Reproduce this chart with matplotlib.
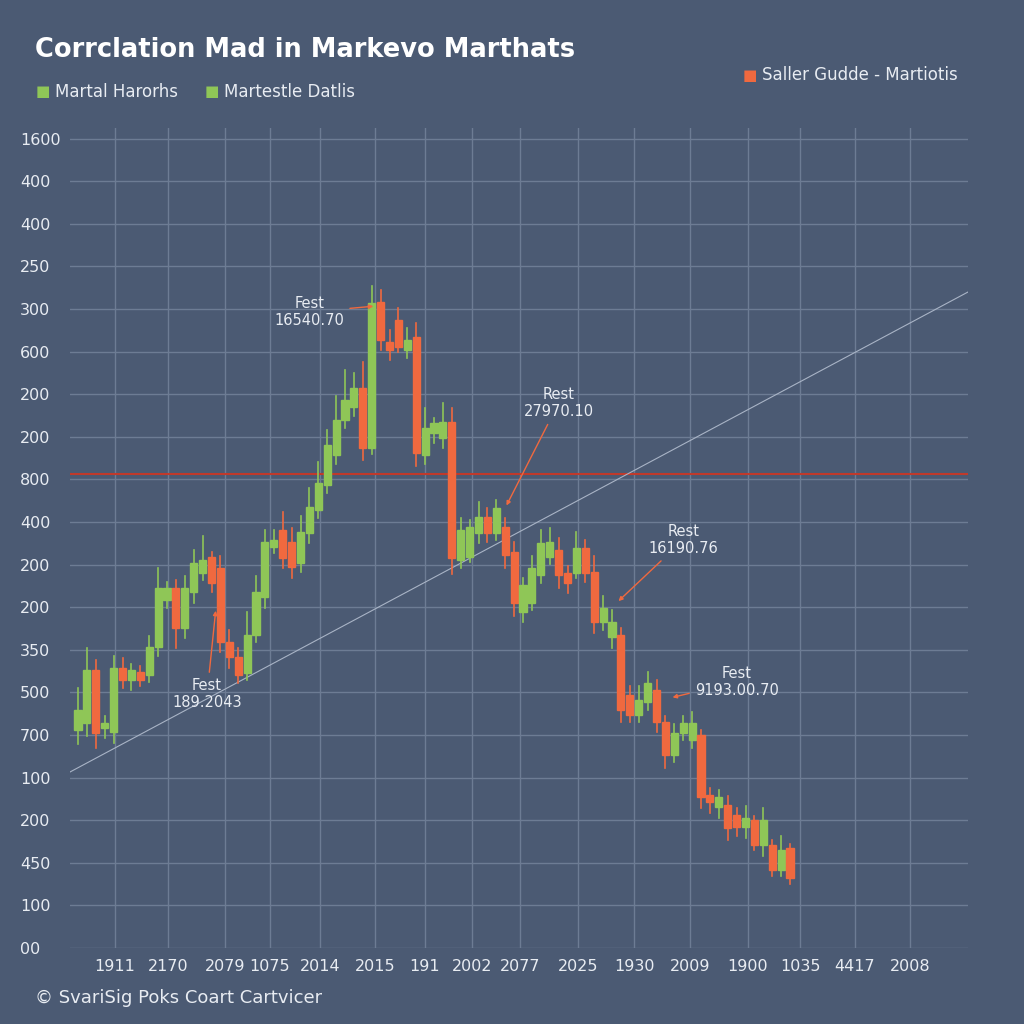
import matplotlib.pyplot as plt
from matplotlib.patches import Rectangle
import numpy as np

# body top / body bottom of each candle (axis value = rows up from baseline)
BODY_TOP = [238, 278, 278, 225, 280, 280, 278, 276, 301, 360, 360, 360, 360, 385, 388, 391,
            380, 306, 291, 313, 356, 406, 408, 418, 406, 416, 441, 465, 503, 528, 548, 560,
            560, 645, 646, 606, 628, 608, 611, 520, 525, 526, 526, 418, 421, 431, 431, 440,
            421, 396, 363, 380, 405, 406, 398, 375, 400, 400, 376, 340, 326, 313, 253, 248,
            265, 258, 226, 215, 225, 225, 213, 153, 151, 143, 133, 130, 128, 128, 103, 98, 100]
BODY_BOT = [218, 225, 215, 220, 216, 268, 268, 268, 273, 301, 348, 320, 320, 356, 375, 365,
            306, 291, 273, 275, 313, 351, 401, 390, 381, 385, 415, 438, 463, 493, 528, 541,
            500, 500, 608, 598, 601, 598, 495, 493, 515, 510, 390, 388, 391, 415, 415, 415,
            393, 345, 336, 345, 373, 391, 373, 365, 375, 375, 326, 326, 311, 238, 233, 233,
            246, 226, 193, 193, 215, 208, 151, 146, 141, 120, 121, 121, 103, 103, 78, 78, 70]
UP = ("ggrggrgrgg" "grgggrrrrg" "gggrrggggg" "ggrgrrrgrg" "ggrgggrgrr"
      "ggggrrgrrg" "grrggrrggg" "rrgrrgrgrgr")
WICK_HIGH = [260, 300, 288, 232, 292, 290, 284, 282, 312, 380, 366, 368, 372, 398, 412, 396,
             392, 318, 300, 336, 372, 418, 418, 436, 420, 432, 460, 486, 518, 552, 578, 575,
             586, 662, 658, 618, 640, 620, 625, 540, 530, 545, 540, 430, 428, 446, 440, 448,
             430, 406, 370, 392, 418, 420, 410, 382, 416, 408, 392, 352, 338, 320, 262, 262,
             276, 268, 232, 224, 232, 236, 218, 160, 158, 152, 140, 142, 132, 140, 108, 112, 104]
WICK_LOW = [204, 212, 200, 210, 205, 260, 258, 262, 266, 292, 340, 300, 310, 345, 368, 356,
            296, 280, 265, 268, 306, 340, 395, 380, 370, 376, 405, 430, 455, 484, 520, 532,
            488, 494, 598, 588, 596, 590, 482, 484, 505, 500, 374, 380, 386, 405, 406, 408,
            380, 332, 326, 338, 365, 384, 360, 355, 370, 366, 315, 318, 300, 226, 226, 226,
            238, 216, 180, 186, 208, 200, 140, 135, 130, 108, 112, 110, 98, 92, 72, 72, 64]

Y_LABELS = ["1600", "400", "400", "250", "300", "600", "200", "200", "800", "400",
            "200", "200", "350", "500", "700", "100", "200", "450", "100", "00"]
X_LABELS = ["1911", "2170", "2079", "1075", "2014", "2015", "191", "2002", "2077", "2025",
            "1930", "2009", "1900", "1035", "4417", "2008"]
X_LABEL_PIX = [115, 168, 225, 270, 320, 375, 425, 472, 520, 578, 634, 690, 748, 800, 855, 910]

ANNOTATIONS = [
    ("Fest\n16540.70", (33.5, 642), (26, 636)),
    ("Fest\n189.2043", (15.5, 340), (14.5, 254)),
    ("Rest\n27970.10", (48, 440), (54, 545)),
    ("Rest\n16190.76", (60.5, 345), (68, 408)),
    ("Fest\n9193.00.70", (66.5, 250), (74, 266)),
]

BG = "#4b5a73"
GRID = "#6d7c94"
GREEN = "#8fc657"
RED = "#f0693f"
TEXT = "#e8ecf2"

fig = plt.figure(figsize=(10.24, 10.24), dpi=100, facecolor=BG)
ax = fig.add_axes([70 / 1024, 76 / 1024, 898 / 1024, 820 / 1024], facecolor=BG)

n = len(BODY_TOP)
xs = np.arange(n)
for i in xs:
    col = GREEN if UP[i] == "g" else RED
    ax.plot([i, i], [WICK_LOW[i], WICK_HIGH[i]], color=col, lw=1.2, zorder=3)
    ax.add_patch(Rectangle((i - 0.4, BODY_BOT[i]), 0.8, BODY_TOP[i] - BODY_BOT[i],
                           color=col, zorder=4))

ax.set_xlim(-0.9, 100)
ax.set_ylim(0, 820)
yt = np.arange(20) * 42.6
ax.set_yticks(yt)
ax.set_yticklabels(Y_LABELS[::-1])
xt = [(p - 78) / 8.9 for p in X_LABEL_PIX]
ax.set_xticks(xt)
ax.set_xticklabels(X_LABELS)
ax.tick_params(colors=TEXT, length=0, labelsize=11.5, pad=8)
for lbl in ax.get_yticklabels():
    lbl.set_horizontalalignment("left")
ax.tick_params(axis="y", pad=36)
ax.grid(True, color=GRID, lw=1)
for s in ax.spines.values():
    s.set_visible(False)

ax.axhline(474, color="#c0392b", lw=1.5, zorder=2)
ax.plot([-0.9, 100], [176, 656], color="#a9b4c6", lw=0.8, zorder=2)

for text, xy, xytext in ANNOTATIONS:
    ax.annotate(text, xy=xy, xytext=xytext, color=TEXT, fontsize=10.5, ha="center",
                va="center", zorder=6,
                arrowprops=dict(arrowstyle="-|>", color=RED, lw=1, mutation_scale=6))

fig.text(35 / 1024, 1 - 50 / 1024, "Corrclation Mad in Markevo Marthats", color="white",
         fontsize=18.5, fontweight="bold", va="center")
for x, label in [(36, "Martal Harorhs"), (205, "Martestle Datlis")]:
    fig.text(x / 1024, 1 - 92 / 1024, "■", color=GREEN, fontsize=11, va="center")
    fig.text((x + 19) / 1024, 1 - 92 / 1024, label, color=TEXT, fontsize=12, va="center")
fig.text(743 / 1024, 1 - 75 / 1024, "■", color=RED, fontsize=11, va="center")
fig.text(762 / 1024, 1 - 75 / 1024, "Saller Gudde - Martiotis", color=TEXT, fontsize=12,
         va="center")
fig.text(35 / 1024, 1 - 998 / 1024, "© SvariSig Poks Coart Cartvicer", color=TEXT,
         fontsize=13, va="center")

fig.savefig("out.png", dpi=100, facecolor=BG)
